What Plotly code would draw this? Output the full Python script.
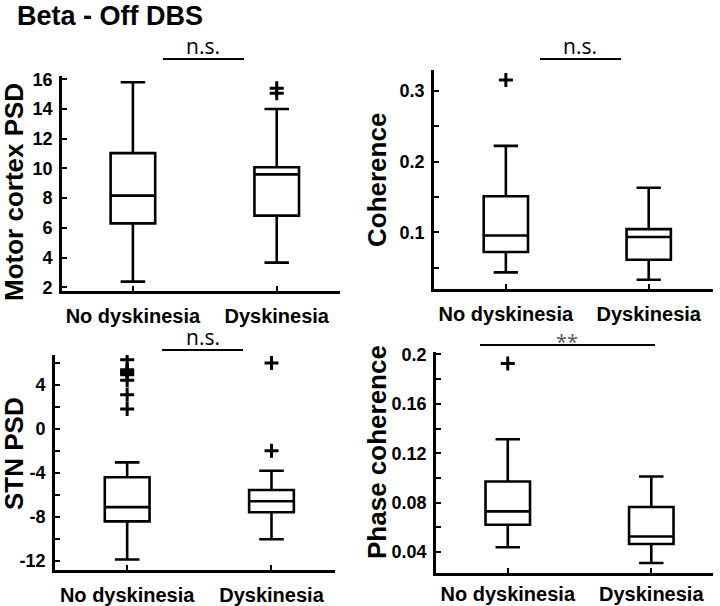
import plotly.graph_objects as go

# ---------------- data ----------------
groups = ["No dyskinesia", "Dyskinesia"]
group_pos = [1, 2]

# Motor cortex PSD
mc_q1 = [6.3, 6.82]
mc_median = [8.17, 9.6]
mc_q3 = [11.03, 10.08]
mc_low = [2.38, 3.66]
mc_high = [15.8, 14.0]
mc_out_nd = []
mc_out_d = [15.06, 15.4]

# Coherence
coh_q1 = [0.0724, 0.0616]
coh_median = [0.0958, 0.0935]
coh_q3 = [0.151, 0.1047]
coh_low = [0.0437, 0.0334]
coh_high = [0.222, 0.163]
coh_out_nd = [0.315]
coh_out_d = []

# STN PSD
stn_q1 = [-8.43, -7.6]
stn_median = [-7.13, -6.6]
stn_q3 = [-4.42, -5.57]
stn_low = [-11.9, -10.05]
stn_high = [-3.06, -3.82]
stn_out_nd = [6.27, 5.35, 5.2, 5.05, 4.9, 4.4, 3.09, 1.79]
stn_out_d = [5.97, -2.0]

# Phase coherence
pc_q1 = [0.0621, 0.0465]
pc_median = [0.0729, 0.0526]
pc_q3 = [0.0971, 0.0764]
pc_low = [0.0438, 0.0311]
pc_high = [0.1313, 0.1011]
pc_out_nd = [0.1927]
pc_out_d = []

W, H = 720, 606
FONT = "Liberation Sans, Arial, sans-serif"

panels = [
    dict(q1=mc_q1, med=mc_median, q3=mc_q3, lo=mc_low, hi=mc_high,
         out_nd=mc_out_nd, out_d=mc_out_d, px=(62, 340), py=(76, 291),
         xr=[0.507, 2.44], yr=[1.75, 16.22], xs=5,
         tv=[2, 4, 6, 8, 10, 12, 14, 16], tt=["2", "4", "6", "8", "10", "12", "14", "16"],
         title="Motor cortex PSD", tx=14, ty=192),
    dict(q1=coh_q1, med=coh_median, q3=coh_q3, lo=coh_low, hi=coh_high,
         out_nd=coh_out_nd, out_d=coh_out_d, px=(434, 713), py=(70, 289),
         xr=[0.497, 2.45], yr=[0.0203, 0.329], xs=5,
         tv=[0.05, 0.1, 0.15, 0.2, 0.25, 0.3], tt=["", "0.1", "", "0.2", "", "0.3"],
         title="Coherence", tx=377, ty=180),
    dict(q1=stn_q1, med=stn_median, q3=stn_q3, lo=stn_low, hi=stn_high,
         out_nd=stn_out_nd, out_d=stn_out_d, px=(55, 335), py=(355, 570),
         xr=[0.5, 2.44], yr=[-12.85, 6.7], xs=5,
         tv=[-12, -10, -8, -6, -4, -2, 0, 2, 4, 6], tt=["-12", "", "-8", "", "-4", "", "0", "", "4", ""],
         title="STN PSD", tx=14, ty=454),
    dict(q1=pc_q1, med=pc_median, q3=pc_q3, lo=pc_low, hi=pc_high,
         out_nd=pc_out_nd, out_d=pc_out_d, px=(436, 713), py=(352, 573),
         xr=[0.5, 2.43], yr=[0.023, 0.202], xs=1,
         tv=[0.04, 0.06, 0.08, 0.1, 0.12, 0.14, 0.16, 0.18, 0.2],
         tt=["0.04", "", "0.08", "", "0.12", "", "0.16", "", "0.2"],
         title="Phase coherence", tx=377, ty=452),
]

fig = go.Figure()
layout = {}
annotations = []

for i, p in enumerate(panels):
    n = "" if i == 0 else str(i + 1)
    xa, ya = "x" + n, "y" + n
    fig.add_trace(go.Box(
        x=group_pos, q1=p["q1"], median=p["med"], q3=p["q3"],
        lowerfence=p["lo"], upperfence=p["hi"],
        width=0.31, whiskerwidth=0.55, fillcolor="white",
        line=dict(color="black", width=2.6), boxpoints=False,
        xaxis=xa, yaxis=ya, showlegend=False, hoverinfo="skip"))
    ox = [group_pos[0]] * len(p["out_nd"]) + [group_pos[1]] * len(p["out_d"])
    oy = list(p["out_nd"]) + list(p["out_d"])
    if oy:
        fig.add_trace(go.Scatter(
            x=ox, y=oy, mode="markers", xaxis=xa, yaxis=ya, showlegend=False,
            marker=dict(symbol="cross-thin", size=10, color="black",
                        line=dict(color="black", width=3)),
            hoverinfo="skip"))
    x0, x1 = p["px"]
    y0, y1 = p["py"]
    common = dict(showline=True, linecolor="black", linewidth=2.6, ticks="inside",
                  ticklen=5, tickwidth=2, tickcolor="black", showgrid=False,
                  zeroline=False, mirror=False, fixedrange=True, automargin=False)
    layout["xaxis" + n] = dict(
        domain=[x0 / W, x1 / W], anchor=ya, range=p["xr"],
        tickvals=group_pos, ticktext=groups, ticklabelstandoff=p["xs"],
        tickfont=dict(family=FONT, size=20, color="black", weight="bold"), **common)
    layout["yaxis" + n] = dict(
        domain=[1 - y1 / H, 1 - y0 / H], anchor=xa, range=p["yr"],
        tickvals=p["tv"], ticktext=p["tt"], ticklabelstandoff=3,
        tickfont=dict(family=FONT, size=18, color="black", weight="bold"), **common)
    annotations.append(dict(
        text=p["title"], x=p["tx"] / W, y=1 - p["ty"] / H, xref="paper", yref="paper",
        textangle=-90, xanchor="center", yanchor="middle", showarrow=False,
        font=dict(family=FONT, size=26, color="black", weight="bold")))

# significance bars (pixel positions)
sig = [("n.s.", 163, 244, 59, 46, 203), ("n.s.", 540, 621, 59, 46, 580),
       ("n.s.", 162, 243, 350, 337, 203), ("**", 480, 655, 345, 341, 567)]
shapes = []
for txt, a, b, ly, ty, tx in sig:
    shapes.append(dict(type="line", xref="paper", yref="paper",
                       x0=a / W, x1=b / W, y0=1 - ly / H, y1=1 - ly / H,
                       line=dict(color="black", width=2)))
    annotations.append(dict(
        text=txt, x=tx / W, y=1 - ty / H,
        xref="paper", yref="paper", xanchor="center", yanchor="middle", showarrow=False,
        font=dict(family="Open Sans, sans-serif", size=21 if txt != "**" else 20,
                  color="black" if txt != "**" else "#555")))

annotations.append(dict(
    text="Beta - Off DBS", x=16 / W, y=1.0, xref="paper", yref="paper",
    xanchor="left", yanchor="top", showarrow=False, borderpad=0,
    font=dict(family=FONT, size=27, color="black", weight="bold")))

fig.update_layout(
    template="none",
    width=W, height=H, margin=dict(l=0, r=0, t=0, b=0, autoexpand=False),
    paper_bgcolor="white", plot_bgcolor="white",
    annotations=annotations, shapes=shapes, **layout)

fig.write_html("out.html", config={"displayModeBar": False},
               post_script="document.body.style.margin='0';")
